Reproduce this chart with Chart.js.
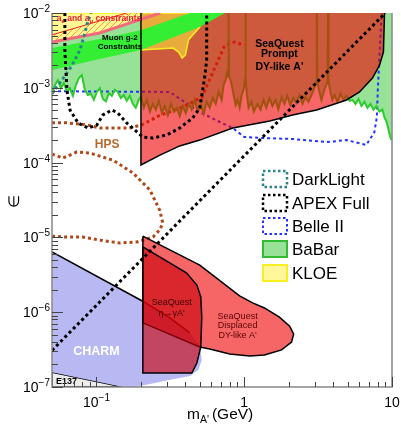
<!DOCTYPE html>
<html>
<head>
<meta charset="utf-8">
<script src="https://cdn.jsdelivr.net/npm/chart.js@4.4.1/dist/chart.umd.min.js"></script>
<style>
  html, body { margin: 0; padding: 0; background: #fff; }
  #wrap { width: 401px; height: 425px; position: relative; }
</style>
</head>
<body>
<div id="wrap"><canvas id="chart"></canvas></div>
<script>
// axis ranges
const xMin = 0.05, xMax = 10, yMin = 1e-7, yMax = 1e-2;

// BaBar: noisy lower edge of the excluded region (m, eps)
const babarEdge = [
  [0.050,8.5e-4],[0.0524,1.09e-3],[0.0548,1.27e-3],[0.0574,9.9e-4],[0.0602,1.16e-3],[0.0631,8.8e-4],
  [0.0661,9.9e-4],[0.0693,7.8e-4],[0.0726,1.09e-3],[0.0760,1.35e-3],[0.0796,1.48e-3],[0.0835,9.4e-4],
  [0.0875,8.0e-4],[0.0917,8.3e-4],[0.0960,6.9e-4],[0.1006,8.8e-4],[0.1054,9.9e-4],[0.1104,7.1e-4],
  [0.1158,6.6e-4],[0.1213,8.5e-4],[0.1271,7.8e-4],[0.1331,9.4e-4],[0.1395,8.8e-4],[0.1462,7.3e-4],
  [0.1531,8.0e-4],[0.1604,6.7e-4],[0.1681,7.8e-4],[0.1761,6.1e-4],[0.1845,5.4e-4],[0.1933,6.9e-4],
  [0.200,7.5e-4],[0.209,5.4e-4],[0.219,6.9e-4],[0.230,4.8e-4],[0.240,6.1e-4],[0.252,5.1e-4],
  [0.264,6.7e-4],[0.277,4.6e-4],[0.290,5.7e-4],[0.304,4.3e-4],[0.319,6.1e-4],[0.334,4.8e-4],
  [0.350,5.4e-4],[0.366,4.2e-4],[0.384,5.7e-4],[0.402,4.6e-4],[0.421,6.1e-4],[0.441,5.1e-4],
  [0.462,6.9e-4],[0.484,4.8e-4],[0.508,5.9e-4],[0.532,4.5e-4],[0.557,6.5e-4],[0.584,5.4e-4],
  [0.612,7.3e-4],[0.641,6.1e-4],[0.671,8.8e-4],[0.703,6.9e-4],[0.725,1.09e-3],[0.748,1.27e-3],
  [0.765,1.6e-3],[0.779,1.4e-3],[0.784,1e-2],[0.789,1.4e-3],[0.805,1.3e-3],[0.822,1.1e-3],
  [0.848,8.0e-4],[0.875,5.9e-4],[0.902,6.9e-4],[0.931,5.4e-4],[0.960,8.0e-4],[0.990,9.5e-4],
  [1.015,1.3e-3],[1.02,1e-2],[1.025,1.3e-3],[1.04,8.5e-4],
  [1.07,5.4e-4],[1.12,6.5e-4],[1.16,4.8e-4],[1.23,6.1e-4],[1.29,5.1e-4],[1.35,6.9e-4],
  [1.41,5.4e-4],[1.48,7.3e-4],[1.55,5.7e-4],[1.63,6.9e-4],[1.70,5.2e-4],[1.79,7.5e-4],
  [1.87,6.1e-4],[1.96,7.8e-4],[2.05,5.9e-4],[2.15,7.3e-4],[2.25,6.3e-4],[2.36,8.0e-4],
  [2.48,6.1e-4],[2.59,7.5e-4],[2.72,6.5e-4],[2.85,8.0e-4],[2.98,1.0e-3],[3.08,1.2e-3],
  [3.10,1e-2],[3.12,1.2e-3],[3.22,9.0e-4],[3.33,6.9e-4],[3.49,9.5e-4],[3.66,1.2e-3],
  [3.69,1e-2],[3.72,1.2e-3],[3.85,8.4e-4],[3.95,6.9e-4],[4.08,8.0e-4],[4.28,6.5e-4],
  [4.48,8.3e-4],[4.70,6.9e-4],[4.92,7.8e-4],[5.16,6.7e-4],[5.40,6.9e-4],[5.66,6.1e-4],
  [5.93,7.1e-4],[6.21,5.7e-4],[6.51,6.5e-4],[6.82,5.4e-4],[7.15,6.1e-4],[7.49,5.1e-4],
  [7.84,5.7e-4],[8.22,4.8e-4],[8.61,5.1e-4],[8.90,4.0e-4],[9.20,3.5e-4],[9.50,2.7e-4],
  [9.80,2.1e-4],[10.0,2.0e-4]
];
const babarTop = [[10,1e-2],[0.2,1e-2],[0.2,8.2e-3],[0.105,5.4e-3],[0.05,4.1e-3]];

// KLOE
const kloe = [[0.05,1e-2],[0.05,4.1e-3],[0.105,5.4e-3],[0.2,8.2e-3],[0.2,3.2e-3],[0.33,3.4e-3],
  [0.36,3.0e-3],[0.38,2.5e-3],[0.40,2.75e-3],[0.42,4.4e-3],[0.5,6.5e-3],[0.55,1e-2]];

// a_e / a_mu constraint lines and hatched band
const aeLine = [[0.05,4.1e-3],[0.105,5.4e-3],[0.2,8.2e-3],[0.27,1e-2]];
const amuLine = [[0.05,5.1e-3],[0.16,1e-2]];
const aeHatch = [[0.05,5.1e-3],[0.16,1e-2],[0.27,1e-2],[0.2,8.2e-3],[0.105,5.4e-3],[0.05,4.1e-3]];

// muon g-2 favoured band
const g2Band = [[0.05,3.4e-3],[0.105,4.5e-3],[0.2,5.9e-3],[0.43,1e-2],[0.74,1e-2],
  [0.5,6.5e-3],[0.2,3.2e-3],[0.105,2.43e-3],[0.05,1.73e-3]];

// SeaQuest prompt DY-like A'
const seaquestPrompt = [[0.2,1e-2],[0.2,9.3e-5],[0.269,1.26e-4],[0.366,1.67e-4],[0.5,2.0e-4],
  [0.836,2.9e-4],[1.49,3.6e-4],[2.12,4.33e-4],[3.09,5.05e-4],[4.92,6.87e-4],[6.03,8.8e-4],
  [7.38,1.35e-3],[8.23,2.0e-3],[8.75,3.0e-3],[8.9,1e-2]];

// SeaQuest displaced DY-like A'
const seaquestDisplaced = [[0.206,1.04e-5],[0.5,4.27e-6],[0.93,1.65e-6],[1.14,1.33e-6],[1.37,1.14e-6],
  [1.73,8.6e-7],[2.03,6.5e-7],[2.16,5.1e-7],[2.09,4.0e-7],[1.79,3.13e-7],[1.37,2.68e-7],
  [1.09,2.6e-7],[0.797,2.76e-7],[0.584,3.22e-7],[0.5,3.43e-7],[0.206,7.2e-7]];

// SeaQuest eta -> gamma A'
const seaquestEta = [[0.206,7.45e-6],[0.313,4.55e-6],[0.408,3.34e-6],[0.478,2.31e-6],[0.508,1.6e-6],
  [0.516,8.6e-7],[0.508,3.43e-7],[0.478,2.09e-7],[0.442,1.54e-7],[0.206,1.54e-7]];

// CHARM and E137
const charm = [[0.05,1.58e-7],[0.05,6.4e-6],[0.21,1.37e-6],[0.314,8.4e-7],[0.428,5.3e-7],[0.5,3.6e-7],
  [0.516,2.3e-7],[0.49,1.7e-7],[0.43,1.4e-7],[0.314,1.25e-7],[0.23,1.1e-7],[0.18,1e-7],[0.151,1e-7]];
const charmEdge = [[0.05,6.4e-6],[0.21,1.37e-6],[0.314,8.4e-7],[0.428,5.3e-7]];
const e137 = [[0.05,1e-7],[0.05,1.58e-7],[0.151,1e-7]];

// projected reaches
const darkLight = [[0.05,8.3e-4],[0.0508,8.8e-4],[0.0584,1.27e-3],[0.0683,2.0e-3],[0.0773,3.2e-3],
  [0.0835,5.4e-3],[0.0878,8.05e-3],[0.092,1e-2]];
const apexFull = [[0.0611,1e-2],[0.0611,3.2e-3],[0.0631,9.35e-4],[0.0662,5.05e-4],[0.0751,3.38e-4],
  [0.0876,2.9e-4],[0.1006,3.18e-4],[0.1104,4.33e-4],[0.1271,5.05e-4],[0.1395,4.6e-4],[0.1604,3.38e-4],
  [0.182,2.73e-4],[0.2057,2.2e-4],[0.2403,2.13e-4],[0.2992,2.34e-4],[0.3658,2.9e-4],[0.4478,3.95e-4],
  [0.4997,5.37e-4],[0.5233,9.35e-4],[0.5399,1.39e-3],[0.557,2.36e-3],[0.557,1e-2]];
const apexLine = [[0.05,3.09e-7],[9.0,1e-2]];
const belle2 = [[0.05,9.0e-4],[0.313,8.8e-4],[0.5,4.74e-4],[0.683,3.49e-4],[0.836,2.9e-4],[1.0,2.2e-4],
  [1.33,2.13e-4],[2.12,2.07e-4],[3.6,1.88e-4],[4.92,2.0e-4],[6.7,1.72e-4],[7.6,2.56e-4],[7.9,4.07e-4],
  [8.0,8.5e-4],[8.2,2.36e-3],[8.5,1e-2]];
const hpsUpper = [[0.05,3.4e-4],[0.063,3.4e-4],[0.086,3.2e-4],[0.105,2.9e-4],[0.137,2.9e-4],[0.168,2.9e-4],
  [0.203,3.2e-4],[0.269,4.3e-4],[0.384,5.5e-4],[0.516,7.5e-4],[0.631,1.84e-3],[0.738,3.7e-3],
  [0.861,4.1e-3],[1.0,3.7e-3]];
const hpsLower = [[0.05,1.30e-4],[0.0593,1.15e-4],[0.0738,1.39e-4],[0.0903,1.34e-4],[0.129,1.08e-4],
  [0.176,7.3e-5],[0.23,4.3e-5],[0.268,2.3e-5],[0.281,1.56e-5],[0.268,1.26e-5],[0.241,1.01e-5],
  [0.188,8.7e-6],[0.144,8.4e-6],[0.105,9.2e-6],[0.081,1.01e-5],[0.063,1.01e-5],[0.05,1.04e-5]];

// ticks
const xMajorTicks = [0.1, 1, 10];
const xMinorTicks = [0.06,0.07,0.08,0.09,0.2,0.3,0.4,0.5,0.6,0.7,0.8,0.9,2,3,4,5,6,7,8,9];
const xTickLabels = [['10','\u22121'], ['1',''], ['10','']];
const yDecades = [-7,-6,-5,-4,-3,-2];

const legendLabels = ['DarkLight', 'APEX Full', 'Belle II', 'BaBar', 'KLOE'];

const FONT = '"Liberation Sans", Arial, Helvetica, sans-serif';
const P = arr => arr.map(([x, y]) => ({x, y}));
const closed = arr => arr.concat([arr[0]]);

// hatch pattern for the a_e band
const pc = document.createElement('canvas');
pc.width = pc.height = 6;
const pg = pc.getContext('2d');
pg.strokeStyle = '#f0a040';
pg.lineWidth = 1;
pg.beginPath();
pg.moveTo(0, 6); pg.lineTo(6, 0);
pg.moveTo(-1, 1); pg.lineTo(1, -1);
pg.moveTo(5, 7); pg.lineTo(7, 5);
pg.stroke();
const hatch = document.getElementById('chart').getContext('2d').createPattern(pc, 'repeat');

function area(data, fill, border, bw) {
    return { data: P(data), fill: 'shape', backgroundColor: fill,
             borderColor: border || 'transparent', borderWidth: bw || 0 };
}
function curve(data, color, width, dash) {
    return { data: P(data), fill: false, backgroundColor: color, borderColor: color,
             borderWidth: width, borderDash: dash || [] };
}

// back to front
const layers = [
    area(closed(babarEdge.concat(babarTop)), '#98e298'),
    area(closed(e137), '#ececec', '#000', 1.5),
    area(closed(charm), '#b8b8f2'),
    curve(belle2, '#2233ff', 2, [3, 3]),
    curve(hpsUpper, '#b0481c', 3, [3, 3]),
    curve(hpsLower, '#b0481c', 3, [3, 3]),
    curve(babarEdge, '#2ccc2c', 2),
    area(closed(seaquestPrompt), 'rgba(240,0,0,0.6)'),
    area(closed(kloe), 'rgba(255,240,60,0.55)', '#ffee22', 1.5),
    area(closed(aeHatch), hatch),
    area(closed(g2Band), '#33ee33'),
    curve(aeLine, '#f26a7a', 3),
    curve(amuLine, '#ee2222', 1),
    curve(seaquestPrompt, '#000', 1.5),
    curve(charmEdge, '#000', 1.5),
    area(closed(seaquestDisplaced), 'rgba(240,0,0,0.6)', '#000', 1.5),
    area(closed(seaquestEta), 'rgba(200,0,10,0.62)', '#000', 1.5),
    curve(darkLight, '#2a8585', 3, [3, 3]),
    curve(apexFull, '#000', 3, [3, 3]),
    curve(apexLine, '#000', 3, [3, 3])
];
const datasets = layers.map((d, i) => ({ ...d, order: layers.length - i, pointRadius: 0, tension: 0, clip: 0 }));

function richText(ctx, parts, x, y, align) {
    let w = 0;
    for (const p of parts) { ctx.font = p.font; p.w = ctx.measureText(p.t).width; w += p.w + (p.gap || 0); }
    let cx = align === 'center' ? x - w / 2 : align === 'right' ? x - w : x;
    for (const p of parts) {
        ctx.font = p.font;
        ctx.fillText(p.t, cx, y + (p.dy || 0));
        cx += p.w + (p.gap || 0);
    }
}

const plotText = [
    { lines: ['Muon g-2', 'Constraints'], x: 0.144, y: [4.35e-3, 3.3e-3], font: 'bold 8px ' + FONT, color: '#000' },
    { lines: ['SeaQuest', 'Prompt', "DY-like A'"], x: 1.73, y: [3.5e-3, 2.58e-3, 1.73e-3], font: 'bold 10.5px ' + FONT, color: '#000' },
    { lines: ['HPS'], x: 0.118, y: [1.57e-4], font: 'bold 12px ' + FONT, color: '#b8682a' },
    { lines: ['CHARM'], x: 0.1, y: [2.68e-7], font: 'bold 12.5px ' + FONT, color: '#fff' },
    { lines: ['SeaQuest', "\u03b7\u2192\u03b3A'"], x: 0.323, y: [1.25e-6, 8.9e-7], font: '9px ' + FONT, color: '#3a0000' },
    { lines: ['SeaQuest', 'Displaced', "DY-like A'"], x: 0.902, y: [8.1e-7, 6.15e-7, 4.5e-7], font: '9px ' + FONT, color: '#5a0000' }
];

const decor = {
    id: 'decor',
    afterDraw(chart) {
        const { ctx, chartArea: a } = chart;
        const X = v => chart.scales.x.getPixelForValue(v);
        const Y = v => chart.scales.y.getPixelForValue(v);
        ctx.save();
        ctx.textBaseline = 'alphabetic';

        // labels inside the plot
        ctx.textAlign = 'center';
        for (const t of plotText) {
            ctx.font = t.font;
            ctx.fillStyle = t.color;
            t.lines.forEach((s, i) => ctx.fillText(s, X(t.x), Y(t.y[i])));
        }
        ctx.textAlign = 'left';
        ctx.fillStyle = '#e8203a';
        const rf = 'bold 8.5px ' + FONT, sf = 'bold 6px ' + FONT;
        richText(ctx, [{ t: 'a', font: rf }, { t: 'e', font: sf, dy: 2 }, { t: ' and a', font: rf },
                       { t: '\u03bc', font: sf, dy: 2 }, { t: ' constraints', font: rf }], X(0.104), Y(7.8e-3), 'center');
        ctx.fillStyle = '#000';
        ctx.font = 'bold 9px ' + FONT;
        ctx.fillText('E137', X(0.0532), Y(1.06e-7) - 1);

        // frame
        ctx.strokeStyle = '#888';
        ctx.lineWidth = 1.5;
        ctx.beginPath();
        ctx.moveTo(a.left, a.top); ctx.lineTo(a.left, a.bottom);
        ctx.lineTo(a.right, a.bottom); ctx.lineTo(a.right, a.top);
        ctx.stroke();

        // inner ticks
        ctx.strokeStyle = '#444';
        ctx.lineWidth = 1;
        ctx.beginPath();
        for (const v of xMajorTicks) { const px = Math.round(X(v)) + 0.5; ctx.moveTo(px, a.bottom); ctx.lineTo(px, a.bottom - 10); }
        for (const v of xMinorTicks) { const px = Math.round(X(v)) + 0.5; ctx.moveTo(px, a.bottom); ctx.lineTo(px, a.bottom - 5); }
        for (const d of yDecades) {
            const py = Math.round(Y(Math.pow(10, d))) + 0.5;
            ctx.moveTo(a.left, py); ctx.lineTo(a.left + 11, py);
            if (d < -2) {
                for (let m = 2; m <= 9; m++) {
                    const q = Math.round(Y(m * Math.pow(10, d))) + 0.5;
                    ctx.moveTo(a.left, q); ctx.lineTo(a.left + 6, q);
                }
            }
        }
        ctx.stroke();

        // tick labels
        ctx.fillStyle = '#000';
        const bf = '14px ' + FONT, ef = '10px ' + FONT;
        for (const d of yDecades) {
            richText(ctx, [{ t: '10', font: bf }, { t: '\u2212' + (-d), font: ef, dy: -6 }], a.left - 2, Y(Math.pow(10, d)) + 5, 'right');
        }
        xMajorTicks.forEach((v, i) => {
            const [b, e] = xTickLabels[i];
            const parts = [{ t: b, font: bf }];
            if (e) parts.push({ t: e, font: ef, dy: -6 });
            richText(ctx, parts, X(v), a.bottom + 20, 'center');
        });

        // axis titles
        const tf = '15.5px ' + FONT;
        richText(ctx, [{ t: 'm', font: tf }, { t: "A'", font: '10.5px ' + FONT, dy: 4, gap: 3 }, { t: '(GeV)', font: tf }], 187, 419, 'left');
        ctx.save();
        ctx.translate(14, 201);
        ctx.rotate(-Math.PI / 2);
        ctx.textAlign = 'center';
        ctx.font = '15px ' + FONT;
        ctx.fillText('\u2208', 0, 5);
        ctx.restore();

        // legend
        const lx = 263, rows = [179, 203, 226, 249, 273];
        const styles = [
            { stroke: '#2a8585', dash: [2.5, 2.5], lw: 2.5 },
            { stroke: '#000', dash: [2.5, 2.5], lw: 2.5 },
            { stroke: '#2233ff', dash: [2.5, 2.5], lw: 2 },
            { stroke: '#33bb33', fill: '#98e298', lw: 2 },
            { stroke: '#f8ee20', fill: '#fff799', lw: 2 }
        ];
        legendLabels.forEach((lab, i) => {
            const s = styles[i], cy = rows[i];
            if (s.fill) { ctx.fillStyle = s.fill; ctx.fillRect(lx, cy - 8, 24, 16); }
            ctx.setLineDash(s.dash || []);
            ctx.strokeStyle = s.stroke;
            ctx.lineWidth = s.lw;
            ctx.strokeRect(lx, cy - 8, 24, 16);
            ctx.setLineDash([]);
            ctx.fillStyle = '#000';
            ctx.font = '17px ' + FONT;
            ctx.textAlign = 'left';
            ctx.fillText(lab, lx + 29, cy + 6);
        });
        ctx.restore();
    }
};

new Chart(document.getElementById('chart'), {
    type: 'line',
    data: { datasets },
    options: {
        responsive: true,
        maintainAspectRatio: false,
        animation: false,
        events: [],
        layout: { padding: { left: 52, right: 9, top: 13, bottom: 38 } },
        elements: { point: { radius: 0 }, line: { tension: 0 } },
        plugins: { legend: { display: false }, tooltip: { enabled: false } },
        scales: {
            x: { type: 'logarithmic', min: xMin, max: xMax, display: false },
            y: { type: 'logarithmic', min: yMin, max: yMax, display: false }
        }
    },
    plugins: [decor]
});
</script>
</body>
</html>
